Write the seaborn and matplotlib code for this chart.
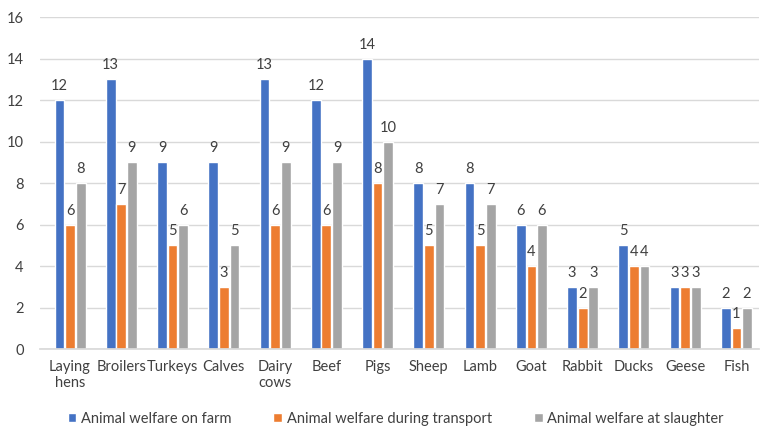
import pandas as pd
import matplotlib.pyplot as plt
import seaborn as sns

categories = ['Laying\nhens', 'Broilers', 'Turkeys', 'Calves', 'Dairy\ncows', 'Beef', 'Pigs',
              'Sheep', 'Lamb', 'Goat', 'Rabbit', 'Ducks', 'Geese', 'Fish']
on_farm = [12, 13, 9, 9, 13, 12, 14, 8, 8, 6, 3, 5, 3, 2]
transport = [6, 7, 5, 3, 6, 6, 8, 5, 5, 4, 2, 4, 3, 1]
slaughter = [8, 9, 6, 5, 9, 9, 10, 7, 7, 6, 3, 4, 3, 2]
series = ['Animal welfare on farm', 'Animal welfare during transport', 'Animal welfare at slaughter']
colors = ['#4472C4', '#ED7D31', '#A5A5A5']

sns.set_theme(style="white")
plt.rcParams['font.family'] = ['Lato', 'DejaVu Sans']

df = pd.DataFrame({'category': categories, series[0]: on_farm,
                   series[1]: transport, series[2]: slaughter})
df = pd.melt(df, id_vars='category', value_vars=series, var_name='series', value_name='value')

fig = plt.figure(figsize=(7.61, 4.30), dpi=100)
ax = fig.add_axes([0.053, 0.188, 0.945, 0.772])

sns.barplot(data=df, x='category', y='value', hue='series', palette=colors,
            saturation=1, width=0.62, gap=0.08, ax=ax, legend=True)

for c in ax.containers:
    ax.bar_label(c, padding=5, fontsize=10.5, color='#404040')

ax.set_ylim(0, 16)
ax.set_yticks(range(0, 17, 2))
ax.set_xlim(-0.58, 13.45)
ax.grid(axis='y', color='#D9D9D9', linewidth=1)
ax.set_axisbelow(True)
for s in ['top', 'right', 'left']:
    ax.spines[s].set_visible(False)
ax.spines['bottom'].set_color('#D9D9D9')
ax.set_xlabel('')
ax.set_ylabel('')
ax.tick_params(axis='both', length=0, labelsize=10.5, colors='#404040')
ax.tick_params(axis='x', pad=8)
ax.tick_params(axis='y', pad=12)

ax.legend(loc='center', bbox_to_anchor=(0.494, -0.21), ncol=3, frameon=False,
          fontsize=10.5, handlelength=0.6, handleheight=0.6, handletextpad=0.3,
          columnspacing=2.9, labelcolor='#404040')

fig.savefig('out.png', dpi=100)
